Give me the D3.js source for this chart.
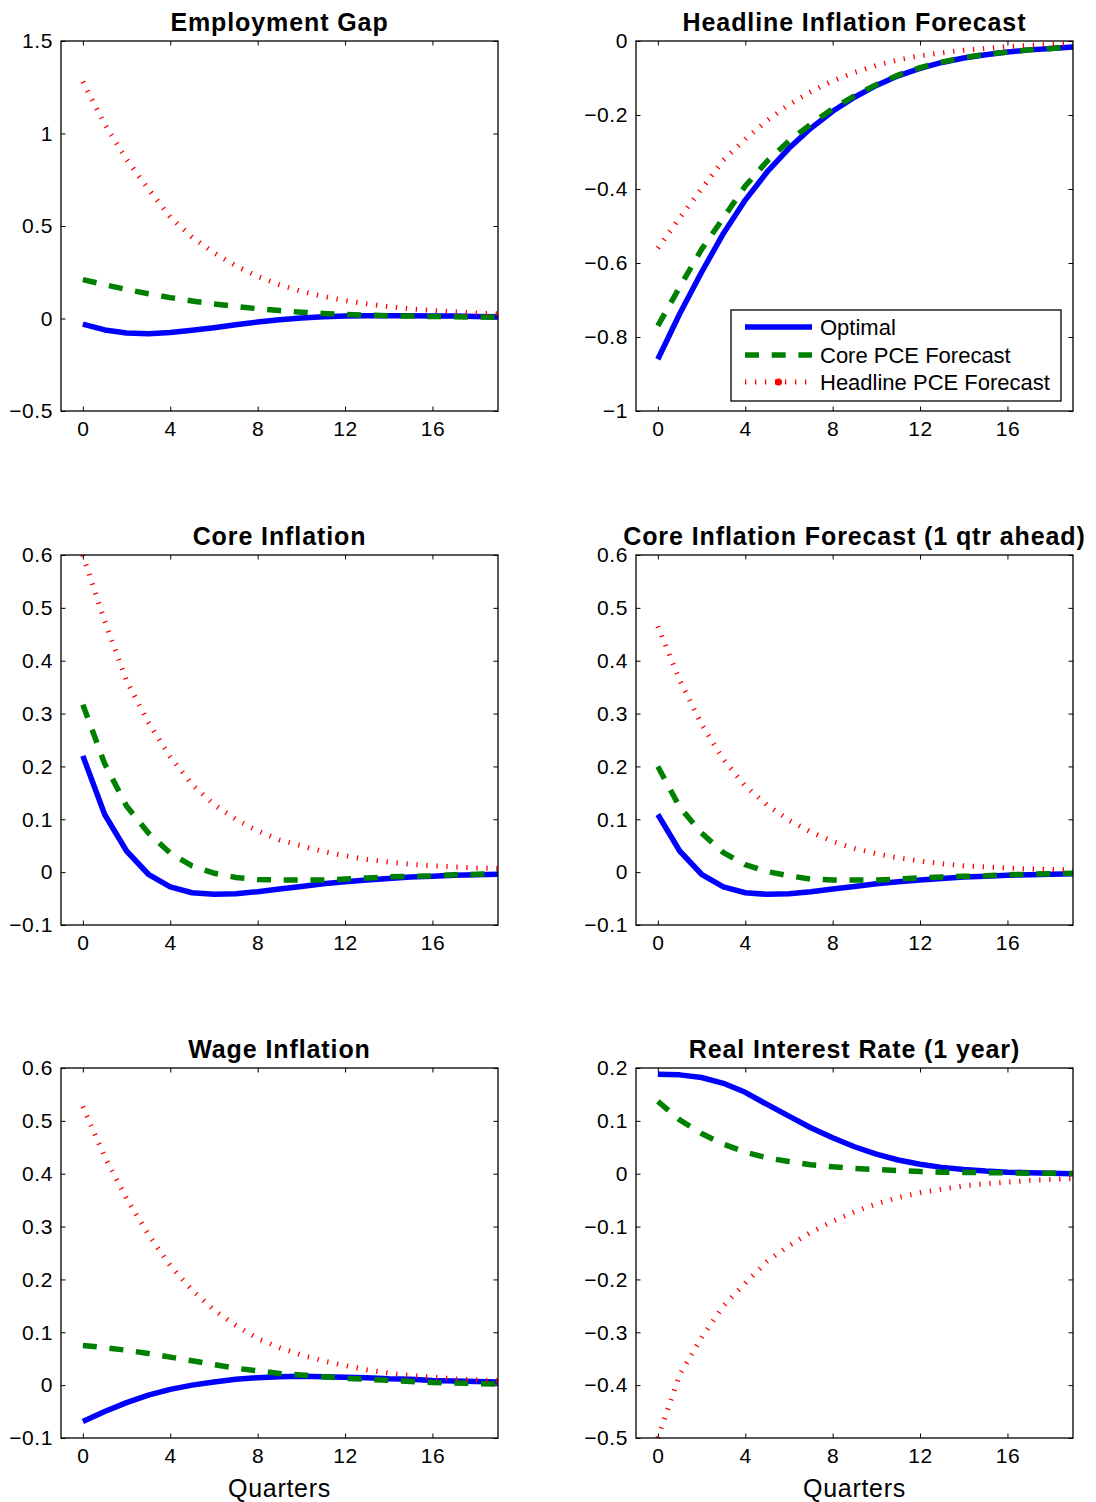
<!DOCTYPE html>
<html>
<head>
<meta charset="utf-8">
<script src="https://cdn.jsdelivr.net/npm/d3@7"></script>
<style>
  html, body { margin: 0; padding: 0; background: #fff; }
  svg { display: block; }
  text { font-family: Arial, "Liberation Sans", Helvetica, sans-serif; fill: #000; }
</style>
</head>
<body>
<svg id="chart" width="1096" height="1502"></svg>
<script>
// ---------------- DATA ----------------
const quarters = [0,1,2,3,4,5,6,7,8,9,10,11,12,13,14,15,16,17,18,19];
const xTicks = [0, 4, 8, 12, 16];

const seriesNames = ["Optimal", "Core PCE Forecast", "Headline PCE Forecast"];

// Employment Gap
const empGapOptimal  = [-0.030,-0.062,-0.078,-0.082,-0.076,-0.064,-0.050,-0.034,-0.019,-0.007,0.003,0.009,0.013,0.015,0.015,0.015,0.014,0.013,0.011,0.010];
const empGapCore     = [0.210,0.183,0.157,0.134,0.113,0.095,0.079,0.065,0.053,0.043,0.034,0.027,0.022,0.018,0.015,0.013,0.011,0.010,0.008,0.007];
const empGapHeadline = [1.280,1.050,0.860,0.700,0.548,0.440,0.355,0.285,0.228,0.182,0.147,0.119,0.097,0.079,0.064,0.052,0.043,0.036,0.030,0.025];
const empGapTicks    = [-0.5, 0, 0.5, 1, 1.5];

// Headline Inflation Forecast
const headFcOptimal  = [-0.860,-0.737,-0.625,-0.520,-0.430,-0.354,-0.290,-0.236,-0.190,-0.152,-0.120,-0.094,-0.074,-0.058,-0.046,-0.037,-0.030,-0.024,-0.020,-0.016];
const headFcCore     = [-0.770,-0.665,-0.563,-0.478,-0.392,-0.325,-0.270,-0.225,-0.183,-0.148,-0.118,-0.092,-0.072,-0.057,-0.045,-0.036,-0.030,-0.024,-0.020,-0.016];
const headFcHeadline = [-0.560,-0.478,-0.400,-0.322,-0.265,-0.215,-0.172,-0.137,-0.108,-0.085,-0.066,-0.051,-0.040,-0.032,-0.025,-0.020,-0.015,-0.012,-0.009,-0.007];
const headFcTicks    = [-1, -0.8, -0.6, -0.4, -0.2, 0];

// Core Inflation
const coreInfOptimal  = [0.220,0.109,0.040,-0.004,-0.028,-0.039,-0.042,-0.041,-0.037,-0.032,-0.027,-0.022,-0.018,-0.015,-0.012,-0.009,-0.008,-0.006,-0.005,-0.004];
const coreInfCore     = [0.317,0.205,0.125,0.074,0.036,0.012,-0.002,-0.010,-0.014,-0.015,-0.015,-0.015,-0.013,-0.011,-0.009,-0.008,-0.007,-0.005,-0.004,-0.003];
const coreInfHeadline = [0.600,0.475,0.362,0.283,0.218,0.166,0.128,0.100,0.078,0.061,0.050,0.039,0.031,0.024,0.019,0.015,0.012,0.010,0.008,0.007];
const coreInfTicks    = [-0.1, 0, 0.1, 0.2, 0.3, 0.4, 0.5, 0.6];

// Core Inflation Forecast (1 qtr ahead)
const coreFcOptimal  = [0.109,0.040,-0.004,-0.028,-0.039,-0.042,-0.041,-0.037,-0.032,-0.027,-0.022,-0.018,-0.015,-0.012,-0.009,-0.008,-0.006,-0.005,-0.004,-0.003];
const coreFcCore     = [0.200,0.123,0.074,0.037,0.014,0.001,-0.007,-0.013,-0.015,-0.015,-0.015,-0.013,-0.011,-0.009,-0.008,-0.007,-0.005,-0.004,-0.003,-0.002];
const coreFcHeadline = [0.465,0.363,0.280,0.213,0.163,0.127,0.098,0.076,0.058,0.045,0.035,0.027,0.021,0.016,0.012,0.010,0.008,0.006,0.005,0.004];
const coreFcTicks    = [-0.1, 0, 0.1, 0.2, 0.3, 0.4, 0.5, 0.6];

// Wage Inflation
const wageOptimal  = [-0.069,-0.050,-0.033,-0.019,-0.008,0.000,0.006,0.011,0.014,0.016,0.017,0.016,0.015,0.014,0.012,0.011,0.009,0.008,0.007,0.006];
const wageCore     = [0.075,0.071,0.066,0.060,0.053,0.046,0.039,0.032,0.027,0.022,0.019,0.016,0.013,0.011,0.009,0.007,0.005,0.004,0.003,0.002];
const wageHeadline = [0.527,0.432,0.353,0.285,0.226,0.180,0.142,0.113,0.088,0.071,0.057,0.046,0.037,0.029,0.023,0.018,0.015,0.012,0.010,0.008];
const wageTicks    = [-0.1, 0, 0.1, 0.2, 0.3, 0.4, 0.5, 0.6];

// Real Interest Rate (1 year)
const realRateOptimal  = [0.188,0.187,0.182,0.171,0.154,0.131,0.109,0.087,0.068,0.051,0.037,0.026,0.018,0.012,0.008,0.005,0.003,0.002,0.001,0.000];
const realRateCore     = [0.137,0.102,0.076,0.056,0.041,0.030,0.023,0.017,0.013,0.010,0.008,0.006,0.004,0.003,0.0025,0.002,0.0015,0.001,0.001,0.0005];
const realRateHeadline = [-0.500,-0.380,-0.310,-0.250,-0.207,-0.166,-0.136,-0.111,-0.090,-0.072,-0.057,-0.045,-0.036,-0.029,-0.023,-0.019,-0.016,-0.013,-0.011,-0.009];
const realRateTicks    = [-0.5, -0.4, -0.3, -0.2, -0.1, 0, 0.1, 0.2];

const panelTitles = ["Employment Gap", "Headline Inflation Forecast", "Core Inflation",
                     "Core Inflation Forecast (1 qtr ahead)", "Wage Inflation", "Real Interest Rate (1 year)"];

// ---------------- LAYOUT / STYLE ----------------
const colLeft = [61, 636];
const plotW = 437;
const rowTop = [41, 555, 1068];
const plotH = 370;

const styles = [
  { color: "#0000ff", width: 5.5, dash: null },
  { color: "#008000", width: 5.5, dash: "14,12.7" },
  { color: "#ff0000", width: 5, dash: "1.3,8.7" }
];

const panels = [
  { title: panelTitles[0], series: [empGapOptimal, empGapCore, empGapHeadline], ticks: empGapTicks },
  { title: panelTitles[1], series: [headFcOptimal, headFcCore, headFcHeadline], ticks: headFcTicks, legend: true },
  { title: panelTitles[2], series: [coreInfOptimal, coreInfCore, coreInfHeadline], ticks: coreInfTicks },
  { title: panelTitles[3], series: [coreFcOptimal, coreFcCore, coreFcHeadline], ticks: coreFcTicks },
  { title: panelTitles[4], series: [wageOptimal, wageCore, wageHeadline], ticks: wageTicks, xlabel: "Quarters" },
  { title: panelTitles[5], series: [realRateOptimal, realRateCore, realRateHeadline], ticks: realRateTicks, xlabel: "Quarters" }
];

const fmt = v => {
  const s = d3.format("")(Math.round(v * 1000) / 1000);
  return s.replace("-", "\u2212");
};

const svg = d3.select("#chart");
const TICK = 4.5;

panels.forEach((p, i) => {
  const x0 = colLeft[i % 2];
  const y0 = rowTop[Math.floor(i / 2)];
  const g = svg.append("g").attr("transform", `translate(${x0},${y0})`);

  const x = d3.scaleLinear().domain([-1, 19]).range([0, plotW]);
  const y = d3.scaleLinear().domain(d3.extent(p.ticks)).range([plotH, 0]);

  // axes (inward ticks on all four sides)
  const axL = d3.axisLeft(y).tickValues(p.ticks).tickSize(-TICK).tickPadding(8).tickFormat(fmt);
  const axR = d3.axisRight(y).tickValues(p.ticks).tickSize(-TICK).tickFormat("");
  const axB = d3.axisBottom(x).tickValues(xTicks).tickSize(-TICK).tickPadding(10).tickFormat(d3.format("d"));
  const axT = d3.axisTop(x).tickValues(xTicks).tickSize(-TICK).tickFormat("");

  const gl = g.append("g").call(axL);
  g.append("g").attr("transform", `translate(${plotW},0)`).call(axR);
  const gb = g.append("g").attr("transform", `translate(0,${plotH})`).call(axB);
  g.append("g").call(axT);

  g.selectAll(".domain").remove();
  g.selectAll(".tick line").attr("stroke", "#000").attr("stroke-width", 1);
  gl.selectAll("text").attr("font-size", 21).attr("letter-spacing", 0.6)
    .attr("font-family", "Arial, 'Liberation Sans', sans-serif").attr("fill", "#000");
  gb.selectAll("text").attr("font-size", 21).attr("letter-spacing", 0.6)
    .attr("font-family", "Arial, 'Liberation Sans', sans-serif").attr("fill", "#000")
    .attr("dy", "0.72em");

  // series lines
  const line = d3.line().x((d, k) => x(quarters[k])).y(d => y(d)).curve(d3.curveLinear);
  p.series.forEach((vals, s) => {
    const st = styles[s];
    g.append("path")
      .datum(vals)
      .attr("d", line)
      .attr("fill", "none")
      .attr("stroke", st.color)
      .attr("stroke-width", st.width)
      .attr("stroke-linejoin", "round")
      .attr("stroke-linecap", "butt")
      .attr("stroke-dasharray", st.dash);
  });

  // frame
  g.append("rect").attr("x", 0).attr("y", 0).attr("width", plotW).attr("height", plotH)
    .attr("fill", "none").attr("stroke", "#000").attr("stroke-width", 1.3);

  // title
  g.append("text")
    .attr("x", plotW / 2).attr("y", -10)
    .attr("text-anchor", "middle")
    .attr("font-size", 25).attr("font-weight", "bold").attr("letter-spacing", 0.9)
    .text(p.title);

  if (p.xlabel) {
    g.append("text")
      .attr("x", plotW / 2).attr("y", plotH + 59)
      .attr("text-anchor", "middle")
      .attr("font-size", 25).attr("letter-spacing", 0.7)
      .text(p.xlabel);
  }

  if (p.legend) {
    const lx = 731 - x0, ly = 310 - y0, lw = 330, lh = 91;
    const lg = g.append("g");
    lg.append("rect").attr("x", lx).attr("y", ly).attr("width", lw).attr("height", lh)
      .attr("fill", "#fff").attr("stroke", "#000").attr("stroke-width", 1.3);
    const rowsY = [17, 45, 72];
    seriesNames.forEach((name, s) => {
      const st = styles[s];
      const yy = ly + rowsY[s];
      lg.append("line")
        .attr("x1", lx + 14).attr("x2", lx + 81).attr("y1", yy).attr("y2", yy)
        .attr("stroke", st.color).attr("stroke-width", st.width)
        .attr("stroke-dasharray", st.dash);
      if (s === 2) {
        lg.append("circle").attr("cx", lx + 47.5).attr("cy", yy).attr("r", 3.5).attr("fill", st.color);
      }
      lg.append("text")
        .attr("x", lx + 89).attr("y", yy).attr("dy", "0.36em")
        .attr("font-size", 22)
        .text(name);
    });
  }
});
</script>
</body>
</html>
